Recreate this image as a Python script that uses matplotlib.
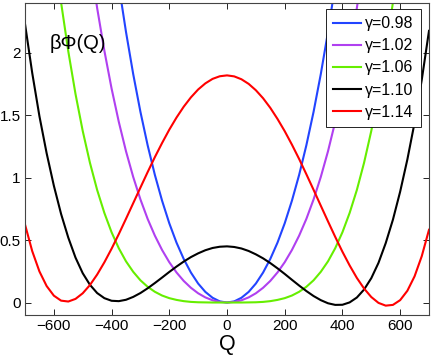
import numpy as np
import matplotlib
matplotlib.use("Agg")
import matplotlib.pyplot as plt

plt.rcParams['font.family'] = ['Liberation Sans', 'DejaVu Sans']

# ---- data ----
q_blue = list(range(-400, 401, 25))
blue_pos = [0.000, 0.009, 0.038, 0.085, 0.152, 0.240, 0.349, 0.480, 0.635, 0.816,
            1.023, 1.260, 1.528, 1.830, 2.168, 2.544, 2.963]
v_blue = blue_pos[:0:-1] + blue_pos

q_purple = list(range(-475, 476, 25))
purple_pos = [0.000, 0.005, 0.018, 0.041, 0.074, 0.118, 0.173, 0.241, 0.323, 0.421,
              0.536, 0.670, 0.826, 1.006, 1.212, 1.448, 1.715, 2.018, 2.360, 2.744]
v_purple = purple_pos[:0:-1] + purple_pos

q_green = list(range(-600, 601, 25))
green_pos = [0.000, 0.000, 0.000, 0.001, 0.002, 0.005, 0.011, 0.021, 0.035, 0.056,
             0.086, 0.126, 0.178, 0.246, 0.330, 0.435, 0.563, 0.718, 0.902, 1.120,
             1.375, 1.671, 2.013, 2.405, 2.851]
v_green = green_pos[:0:-1] + green_pos

q_full = list(range(-700, 701, 25))
v_black = [2.233, 1.840, 1.493, 1.196, 0.936, 0.710, 0.520, 0.360, 0.235, 0.142,
           0.076, 0.035, 0.014, 0.011, 0.022, 0.045, 0.076, 0.114, 0.156, 0.200,
           0.245, 0.288, 0.328, 0.364, 0.394, 0.419, 0.437, 0.447, 0.450,
           0.445, 0.433, 0.413, 0.386, 0.354, 0.316, 0.274, 0.229, 0.182, 0.136,
           0.092, 0.052, 0.019, -0.006, -0.019, -0.018, 0.001, 0.040, 0.104, 0.195,
           0.318, 0.476, 0.664, 0.888, 1.146, 1.441, 1.786, 2.177]
v_red = [0.625, 0.412, 0.249, 0.132, 0.055, 0.015, 0.008, 0.029, 0.074, 0.140,
         0.224, 0.322, 0.431, 0.548, 0.671, 0.796, 0.921, 1.045, 1.165, 1.278,
         1.385, 1.482, 1.569, 1.644, 1.707, 1.756, 1.792, 1.813, 1.820,
         1.812, 1.789, 1.752, 1.701, 1.637, 1.560, 1.471, 1.373, 1.265, 1.150,
         1.028, 0.903, 0.776, 0.650, 0.526, 0.407, 0.297, 0.197, 0.112, 0.044,
         -0.003, -0.025, -0.019, 0.019, 0.094, 0.210, 0.372, 0.583]

labels = ['γ=0.98', 'γ=1.02', 'γ=1.06', 'γ=1.10', 'γ=1.14']
colors = ['#2244FF', '#B040F0', '#66EE00', '#000000', '#FF0000']
xticks = [-600, -400, -200, 0, 200, 400, 600]
yticks = [0, 0.5, 1, 1.5, 2]
ytick_labels = ['0', '0.5', '1', '1.5', '2']

# ---- figure ----
fig = plt.figure(figsize=(4.32, 3.6), dpi=100)
ax = fig.add_axes([25/432, 1-315/360, 404/432, 312/360])

series = [(q_blue, v_blue), (q_purple, v_purple), (q_green, v_green),
          (q_full, v_black), (q_full, v_red)]
for (q, v), lab, c in zip(series, labels, colors):
    ax.plot(q, v, color=c, lw=1.5, label=lab)

ax.set_xlim(-700, 700)
ax.set_ylim(-0.1, 2.4)
ax.set_xticks(xticks)
ax.set_yticks(yticks)
ax.set_yticklabels(ytick_labels)
ax.tick_params(direction='in', top=True, right=True, labelsize=11, length=4,
               width=0.6, pad=3)
for s in ax.spines.values():
    s.set_linewidth(0.8)
    s.set_color('#444444')

ax.set_xlabel('Q', fontsize=15.5, labelpad=0.5)
ax.text(-615, 2.03, 'βΦ(Q)', fontsize=14.5, ha='left', va='baseline')

leg = ax.legend(loc='upper right', bbox_to_anchor=(0.9795, 0.981), borderaxespad=0,
                fontsize=11.5, handlelength=1.75, handletextpad=0.25, labelspacing=0.45,
                borderpad=0.45, fancybox=False, framealpha=1, edgecolor='black')
leg.get_frame().set_linewidth(0.6)

fig.savefig('out.png', dpi=100)
